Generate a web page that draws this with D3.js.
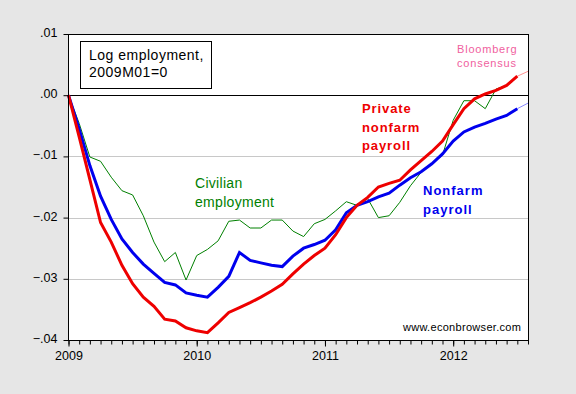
<!DOCTYPE html>
<meta charset="utf-8">

<style type="text/css">
  body {
    margin: 0;
    background: #e6e6e6;
    font-family: Arial, "Liberation Sans", sans-serif;
  }

  .axis text {
    font: 12.5px Arial, "Liberation Sans", sans-serif;
    fill: #000;
  }

  .axis path,
  .axis line {
    stroke: #000;
  }

  .grid line {
    stroke: #c8c8c8;
    stroke-width: 1px;
  }
</style>

<body>
</body>

<script src="https://d3js.org/d3.v7.min.js"></script>
<script>
  // months since 2009M01
  var months = d3.range(0, 43);

  // private nonfarm payroll (log, 2009M01=0)
  var privatePayroll = [0, -0.0068, -0.0138, -0.0208, -0.0240, -0.0278, -0.0308, -0.0330, -0.0345, -0.0366,
    -0.0369, -0.0380, -0.0385, -0.0388, -0.0372, -0.0355, -0.0347, -0.0339, -0.0330, -0.0320,
    -0.0309, -0.0292, -0.0276, -0.0262, -0.0250, -0.0228, -0.0200, -0.0180, -0.0167, -0.0150,
    -0.0144, -0.0139, -0.0122, -0.0107, -0.0092, -0.0075, -0.0048, -0.0022, -0.0006, 0.0002,
    0.0008, 0.0016, 0.0031
  ];

  // nonfarm payroll
  var nonfarmPayroll = [0, -0.0055, -0.0115, -0.0165, -0.0203, -0.0235, -0.0257, -0.0276, -0.0291, -0.0306,
    -0.0310, -0.0323, -0.0327, -0.0330, -0.0314, -0.0296, -0.0257, -0.0270, -0.0274, -0.0278,
    -0.0280, -0.0263, -0.0250, -0.0244, -0.0237, -0.0220, -0.0192, -0.0180, -0.0174, -0.0166,
    -0.0160, -0.0147, -0.0135, -0.0125, -0.0112, -0.0096, -0.0075, -0.0060, -0.0052, -0.0046,
    -0.0039, -0.0033, -0.0022
  ];

  // civilian employment (household survey), through 2012M06
  var civilianEmployment = [0, -0.0046, -0.0101, -0.0108, -0.0134, -0.0156, -0.0163, -0.0197, -0.0240, -0.0272,
    -0.0257, -0.0302, -0.0262, -0.0252, -0.0238, -0.0206, -0.0204, -0.0217, -0.0217, -0.0204,
    -0.0204, -0.0222, -0.0231, -0.0210, -0.0203, -0.0189, -0.0174, -0.0180, -0.0169, -0.0200,
    -0.0197, -0.0175, -0.0148, -0.0126, -0.0112, -0.0098, -0.0041, -0.0009, -0.0009, -0.0022,
    0.0010, 0.0016
  ];

  // Bloomberg consensus for 2012M08
  var consensusPrivate = [{ m: 42, v: 0.0031 }, { m: 43, v: 0.0039 }];
  var consensusNonfarm = [{ m: 42, v: -0.0022 }, { m: 43, v: -0.0013 }];

  var yTicks = [0.01, 0, -0.01, -0.02, -0.03, -0.04];
  var yearTicks = [0, 12, 24, 36];
  var yearLabels = ["2009", "2010", "2011", "2012"];

  var width = 576,
    height = 394,
    plot = { left: 68, top: 34, right: 528, bottom: 340 };

  var x = d3.scaleLinear().domain([0, 43]).range([plot.left + 0.5, plot.right]);
  var y = d3.scaleLinear().domain([-0.04, 0.01]).range([plot.bottom, plot.top]);

  var svg = d3.select("body")
    .append("svg")
    .attr("width", width)
    .attr("height", height);

  svg.append("rect")
    .attr("x", plot.left)
    .attr("y", plot.top)
    .attr("width", plot.right - plot.left)
    .attr("height", plot.bottom - plot.top)
    .style("fill", "#fff");

  // gridlines
  svg.append("g")
    .attr("class", "grid")
    .selectAll("line")
    .data([-0.01, -0.02, -0.03])
    .enter().append("line")
    .attr("x1", plot.left)
    .attr("x2", plot.right)
    .attr("y1", function(d) { return Math.round(y(d)) + 0.5; })
    .attr("y2", function(d) { return Math.round(y(d)) + 0.5; });

  // zero line
  svg.append("line")
    .attr("x1", plot.left)
    .attr("x2", plot.right)
    .attr("y1", Math.round(y(0)) + 0.5)
    .attr("y2", Math.round(y(0)) + 0.5)
    .style("stroke", "#000");

  var line = d3.line()
    .x(function(d, i) { return x(i); })
    .y(function(d) { return y(d); });

  var line2 = d3.line()
    .x(function(d) { return x(d.m); })
    .y(function(d) { return y(d.v); });

  svg.append("path")
    .datum(civilianEmployment)
    .attr("d", line)
    .style("fill", "none")
    .style("stroke", "#008000")
    .style("stroke-width", 1);

  svg.append("path")
    .datum(consensusNonfarm)
    .attr("d", line2)
    .style("fill", "none")
    .style("stroke", "#8888ff")
    .style("stroke-width", 1);

  svg.append("path")
    .datum(consensusPrivate)
    .attr("d", line2)
    .style("fill", "none")
    .style("stroke", "#ff9090")
    .style("stroke-width", 1);

  svg.append("path")
    .datum(nonfarmPayroll)
    .attr("d", line)
    .style("fill", "none")
    .style("stroke", "#0000ee")
    .style("stroke-width", 3);

  svg.append("path")
    .datum(privatePayroll)
    .attr("d", line)
    .style("fill", "none")
    .style("stroke", "#ee0000")
    .style("stroke-width", 3);

  // frame
  svg.append("rect")
    .attr("x", plot.left + 0.5)
    .attr("y", plot.top + 0.5)
    .attr("width", plot.right - plot.left)
    .attr("height", plot.bottom - plot.top)
    .style("fill", "none")
    .style("stroke", "#000");

  // y axis
  var yAxis = d3.axisLeft(y)
    .tickValues(yTicks)
    .tickSize(5)
    .tickPadding(6)
    .tickFormat(function(d) {
      return d3.format(".2f")(d).replace("0.", ".");
    });

  svg.append("g")
    .attr("class", "axis")
    .attr("transform", "translate(" + (plot.left + 0.5) + ",0)")
    .call(yAxis)
    .call(function(g) { g.select(".domain").remove(); })
    .selectAll("text")
    .attr("dy", "0.2em");

  // x axis: monthly minor ticks, yearly labels
  var xMinor = d3.axisBottom(x)
    .tickValues(months.concat([43]))
    .tickSize(4)
    .tickFormat("");

  svg.append("g")
    .attr("class", "axis")
    .attr("transform", "translate(0," + (plot.bottom + 0.5) + ")")
    .call(xMinor)
    .call(function(g) { g.select(".domain").remove(); });

  var xAxis = d3.axisBottom(x)
    .tickValues(yearTicks)
    .tickSize(6)
    .tickPadding(5)
    .tickFormat(function(d, i) { return yearLabels[i]; });

  svg.append("g")
    .attr("class", "axis")
    .attr("transform", "translate(0," + (plot.bottom + 0.5) + ")")
    .call(xAxis)
    .call(function(g) { g.select(".domain").remove(); });

  // legend box
  svg.append("rect")
    .attr("x", 80.5)
    .attr("y", 41.5)
    .attr("width", 131)
    .attr("height", 47)
    .style("fill", "#fff")
    .style("stroke", "#000");

  var legend = svg.append("text")
    .attr("x", 89)
    .attr("y", 60)
    .style("font-size", "14px")
    .style("letter-spacing", "0.5px");
  legend.append("tspan").attr("x", 89).attr("y", 60).text("Log employment,");
  legend.append("tspan").attr("x", 89).attr("y", 77).text("2009M01=0");

  // series labels
  function label(lines, x0, y0, step, color, size, weight, spacing) {
    var t = svg.append("text")
      .style("fill", color)
      .style("font-size", size)
      .style("font-weight", weight)
      .style("letter-spacing", spacing);
    lines.forEach(function(s, i) {
      t.append("tspan").attr("x", x0).attr("y", y0 + i * step).text(s);
    });
  }

  label(["Private", "nonfarm", "payroll"], 362, 113, 18.5, "#ee0000", "13px", "bold", "0.9px");
  label(["Nonfarm", "payroll"], 423, 195, 18.5, "#0000ee", "13px", "bold", "1px");
  label(["Civilian", "employment"], 195, 188, 19, "#008000", "14px", "normal", "0.3px");
  label(["Bloomberg", "consensus"], 457, 53, 14, "#f0609e", "11px", "normal", "0.8px");
  label(["www.econbrowser.com"], 403, 331, 0, "#000", "11px", "normal", "0.3px");
</script>
